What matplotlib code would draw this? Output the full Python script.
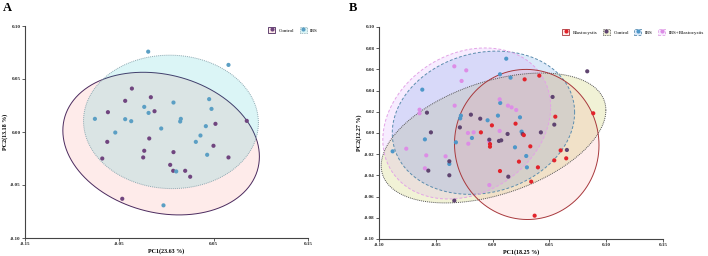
import numpy as np
import matplotlib
matplotlib.use("Agg")
import matplotlib.pyplot as plt
from matplotlib.patches import Polygon, Rectangle
from matplotlib.lines import Line2D
from matplotlib.legend_handler import HandlerTuple

plt.rcParams['font.family'] = ['Liberation Serif', 'DejaVu Serif']

# ---------------- Panel A data ----------------
a_groups = ["Control", "IBS"]
a_control_x = [-0.0367, -0.0438, -0.0166, -0.0127, -0.0621, 0.0519, 0.0851, -0.0183, -0.0628, -0.0236,
               0.0074, 0.0498, -0.0247, 0.0657, -0.0681, 0.0039, 0.0071, 0.0198, 0.0251, -0.0469]
a_control_y = [0.0410, 0.0294, 0.0328, 0.0196, 0.0187, 0.0077, 0.0105, -0.0061, -0.0093, -0.0177,
               -0.0190, -0.0130, -0.0240, -0.0240, -0.0250, -0.0310, -0.0366, -0.0366, -0.0422, -0.0630]
a_ibs_x = [-0.0194, 0.0657, -0.0759, -0.0438, -0.0374, -0.0236, -0.0190, 0.0074, 0.0452, 0.0477,
           -0.0056, -0.0543, 0.0152, 0.0145, 0.0417, 0.0360, 0.0311, 0.0431, 0.0103, -0.0032]
a_ibs_y = [0.0758, 0.0633, 0.0124, 0.0121, 0.0102, 0.0237, 0.0180, 0.0278, 0.0310, 0.0218,
           0.0033, -0.0005, 0.0124, 0.0099, 0.0055, -0.0033, -0.0093, -0.0215, -0.0372, -0.0692]
a_xlabel = "PC1(23.63 %)"
a_ylabel = "PC2(13.18 %)"
a_xticks = [-0.15, -0.05, 0.05, 0.15]
a_yticks = [-0.10, -0.05, 0.00, 0.05, 0.10]

# ---------------- Panel B data ----------------
b_groups = ["Blastocystis", "Control", "IBS", "IBS+Blastocystis"]
b_blasto_x = [0.0282, 0.0411, 0.0552, 0.0886, 0.0202, -0.0006, -0.0103, 0.0275, 0.0332, -0.0023,
              -0.0023, 0.0599, 0.0232, 0.0543, 0.0648, 0.0399, 0.0065, 0.0340, 0.0370]
b_blasto_y = [0.0506, 0.0541, 0.0154, 0.0186, 0.0088, 0.0072, 0.0006, -0.0020, -0.0126, -0.0104,
              -0.0129, -0.0164, -0.0270, -0.0258, -0.0239, -0.0324, -0.0359, -0.0459, -0.0780]
b_control_x = [0.0833, 0.0528, -0.0578, -0.0191, -0.0109, -0.0288, 0.0543, -0.0543, 0.0425, 0.0132,
               0.0265, -0.0029, 0.0056, 0.0076, 0.0654, -0.0381, -0.0566, -0.0381, 0.0138, -0.0337]
b_control_y = [0.0582, 0.0340, 0.0192, 0.0173, 0.0135, 0.0053, 0.0079, 0.0006, 0.0006, -0.0009,
               -0.0010, -0.0063, -0.0075, -0.0069, -0.0160, -0.0267, -0.0355, -0.0399, -0.0412, -0.0638]
b_ibs_x = [0.0120, 0.0065, 0.0158, -0.0619, 0.0067, -0.0279, -0.0285, 0.0047, -0.0044, 0.0241,
           0.0255, -0.0596, -0.0323, -0.0182, 0.0197, -0.0880, 0.0296, -0.0381, 0.0302]
b_ibs_y = [0.0701, 0.0554, 0.0522, 0.0409, 0.0283, 0.0164, 0.0138, 0.0164, 0.0120, 0.0148,
           0.0013, -0.0060, -0.0088, -0.0047, -0.0135, -0.0173, -0.0217, -0.0292, -0.0324]
b_ibsb_x = [-0.0337, -0.0232, -0.0273, -0.0334, -0.0643, -0.0643, 0.0062, 0.0135, 0.0167, 0.0208,
            -0.0217, -0.0167, 0.0062, -0.0032, -0.0214, -0.0760, -0.0584, -0.0414, -0.0596, -0.0029]
b_ibsb_y = [0.0629, 0.0591, 0.0491, 0.0258, 0.0220, 0.0186, 0.0318, 0.0258, 0.0242, 0.0217,
            0.0000, 0.0006, 0.0019, -0.0079, -0.0101, -0.0148, -0.0211, -0.0220, -0.0333, -0.0491]
b_xlabel = "PC1(18.25 %)"
b_ylabel = "PC2(12.27 %)"
b_xticks = [-0.10, -0.05, 0.00, 0.05, 0.10, 0.15]
b_yticks = [-0.10, -0.08, -0.06, -0.04, -0.02, 0.00, 0.02, 0.04, 0.06, 0.08, 0.10]


def cov_trob(X, nu=5, maxit=25, tol=0.01):
    n, p = X.shape
    wt = np.ones(n)
    loc = X.mean(axis=0)
    w = np.sqrt(wt)
    Xc = X - loc
    for _ in range(maxit):
        w0 = w
        Xc = X - loc
        s = np.sqrt(w / w.sum())[:, None] * Xc
        _, d, Vt = np.linalg.svd(s, full_matrices=False)
        wX = Xc @ Vt.T @ np.diag(1.0 / d)
        Q = (wX ** 2).sum(axis=1)
        w = wt * (nu + p) / (nu + Q)
        loc = (w[:, None] * X).sum(axis=0) / w.sum()
        if np.all(np.abs(w - w0) < tol):
            break
    cov = (np.sqrt(w)[:, None] * Xc).T @ (np.sqrt(w)[:, None] * Xc) / wt.sum()
    return loc, cov


def ellipse_pts(x, y, level=0.95, seg=120):
    X = np.column_stack([x, y])
    n = len(x)
    center, shape = cov_trob(X)
    dfd = n - 1
    fq = dfd / 2.0 * ((1 - level) ** (-2.0 / dfd) - 1)
    radius = np.sqrt(2 * fq)
    ang = np.linspace(0, 2 * np.pi, seg + 1)
    circ = np.column_stack([np.cos(ang), np.sin(ang)])
    L = np.linalg.cholesky(shape)
    return center + radius * (circ @ L.T)


def style_axes(ax, xticks, yticks, xlabel, ylabel):
    ax.set_xlim(xticks[0], xticks[-1])
    ax.set_ylim(yticks[0], yticks[-1])
    ax.set_xticks(xticks)
    ax.set_yticks(yticks)
    ax.set_xticklabels([f"{t:.2f}" for t in xticks], fontsize=3.6, fontweight='bold')
    ax.set_yticklabels([f"{t:.2f}" for t in yticks], fontsize=3.6, fontweight='bold')
    for s in ['top', 'right']:
        ax.spines[s].set_visible(False)
    for s in ['left', 'bottom']:
        ax.spines[s].set_color('#444444')
        ax.spines[s].set_linewidth(0.8)
    ax.tick_params(length=2, width=0.6, pad=1, colors='#444444', labelcolor='#222222')
    ax.set_xlabel(xlabel, fontsize=4.3, fontweight='bold', labelpad=1.5)
    ax.set_ylabel(ylabel, fontsize=4.3, fontweight='bold', labelpad=1.5)


def make_legend(fig, groups, fills, alphas, edges, styles, pts, anchor, ncol):
    handles = []
    for fc, al, ec, ls, c in zip(fills, alphas, edges, styles, pts):
        box = Rectangle((0, 0), 1, 1, facecolor=matplotlib.colors.to_rgba(fc, al), edgecolor=ec,
                        linestyle=ls, linewidth=0.6)
        dot = Line2D([], [], marker='o', linestyle='none', markersize=3.0, color=c, markeredgewidth=0)
        handles.append((box, dot))
    fig.legend(handles, groups, handler_map={tuple: HandlerTuple(ndivide=1)},
               loc='center', bbox_to_anchor=anchor, ncol=ncol, frameon=False, numpoints=1,
               fontsize=3.6, handlelength=1.4, handleheight=1.4, columnspacing=1.1,
               handletextpad=0.7, borderpad=0)


fig = plt.figure(figsize=(7.08, 2.56), dpi=100)

# ---------------- Panel A ----------------
axA = fig.add_axes([25 / 708, 1 - 238 / 256, 283 / 708, 212 / 256])
a_data = [(a_control_x, a_control_y), (a_ibs_x, a_ibs_y)]
a_fill = ['#F8766D', '#00BFC4']
a_alpha = [0.14, 0.14]
a_edge = ['#4B2A5E', '#8FAAB3']
a_ls = ['-', (0, (1, 1))]
a_pt = ['#70457F', '#5B9FC4']
for (x, y), fc, al, ec, ls in zip(a_data, a_fill, a_alpha, a_edge, a_ls):
    pts = ellipse_pts(np.array(x), np.array(y))
    axA.add_patch(Polygon(pts, closed=True, facecolor=fc, alpha=al, edgecolor='none'))
    axA.add_patch(Polygon(pts, closed=True, facecolor='none', edgecolor=ec, linestyle=ls, linewidth=0.7))
for (x, y), c in zip(a_data, a_pt):
    axA.scatter(x, y, s=9, color=c, edgecolors='none', zorder=3)
style_axes(axA, a_xticks, a_yticks, a_xlabel, a_ylabel)
make_legend(fig, a_groups, a_fill, a_alpha, a_edge, a_ls, a_pt, (293 / 708, 1 - 30 / 256), 2)

# ---------------- Panel B ----------------
axB = fig.add_axes([379 / 708, 1 - 239 / 256, 284 / 708, 212 / 256])
b_data = [(b_blasto_x, b_blasto_y), (b_control_x, b_control_y), (b_ibs_x, b_ibs_y), (b_ibsb_x, b_ibsb_y)]
b_fill = ['#F8766D', '#B5B820', '#3C88E0', '#C77CFF']
b_alpha = [0.13, 0.18, 0.18, 0.14]
b_edge = ['#A8383C', '#555555', '#5C8DAE', '#E3A4E6']
b_ls = ['-', (0, (1, 1)), (0, (3, 2)), (0, (3, 2))]
b_pt = ['#E2232B', '#5F4470', '#4E97C9', '#DD8DE6']
order = [1, 2, 3, 0]
for i in order:
    x, y = b_data[i]
    pts = ellipse_pts(np.array(x), np.array(y))
    axB.add_patch(Polygon(pts, closed=True, facecolor=b_fill[i], alpha=b_alpha[i], edgecolor='none'))
for i in order:
    x, y = b_data[i]
    pts = ellipse_pts(np.array(x), np.array(y))
    axB.add_patch(Polygon(pts, closed=True, facecolor='none', edgecolor=b_edge[i], linestyle=b_ls[i],
                          linewidth=0.7))
for i in [2, 3, 1, 0]:
    x, y = b_data[i]
    axB.scatter(x, y, s=9, color=b_pt[i], edgecolors='none', zorder=3)
style_axes(axB, b_xticks, b_yticks, b_xlabel, b_ylabel)
make_legend(fig, b_groups, b_fill, b_alpha, b_edge, b_ls, b_pt, (633 / 708, 1 - 32 / 256), 4)

fig.text(3 / 708, 1 - 8 / 256, "A", fontsize=9, fontweight='bold', va='center', ha='left')
fig.text(349 / 708, 1 - 8 / 256, "B", fontsize=9, fontweight='bold', va='center', ha='left')

fig.savefig("out.png", dpi=100)
